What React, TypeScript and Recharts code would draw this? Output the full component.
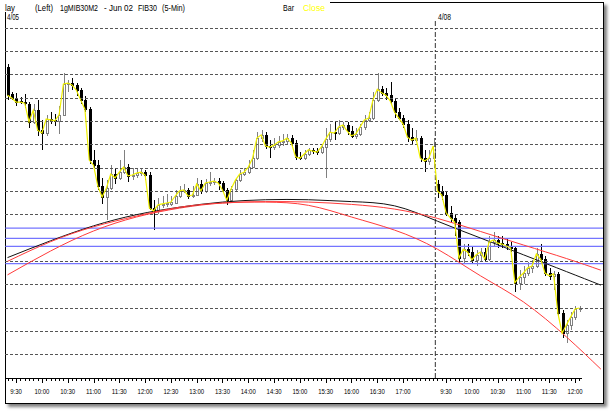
import { ComposedChart, Bar, Line, XAxis, YAxis, ReferenceLine } from "recharts";

// 5-min bars, FIB30 June 02, 4/05 and 4/08
const day1Times = [
  "9:20", "9:25", "9:30", "9:35", "9:40", "9:45", "9:50", "9:55",
  "10:00", "10:05", "10:10", "10:15", "10:20", "10:25", "10:30", "10:35", "10:40", "10:45", "10:50", "10:55",
  "11:00", "11:05", "11:10", "11:15", "11:20", "11:25", "11:30", "11:35", "11:40", "11:45", "11:50", "11:55",
  "12:00", "12:05", "12:10", "12:15", "12:20", "12:25", "12:30", "12:35", "12:40", "12:45", "12:50", "12:55",
  "13:00", "13:05", "13:10", "13:15", "13:20", "13:25", "13:30", "13:35", "13:40", "13:45", "13:50", "13:55",
  "14:00", "14:05", "14:10", "14:15", "14:20", "14:25", "14:30", "14:35", "14:40", "14:45", "14:50", "14:55",
  "15:00", "15:05", "15:10", "15:15", "15:20", "15:25", "15:30", "15:35", "15:40", "15:45", "15:50", "15:55",
  "16:00", "16:05", "16:10", "16:15", "16:20", "16:25", "16:30", "16:35", "16:40", "16:45", "16:50", "16:55",
  "17:00", "17:05", "17:10", "17:15", "17:20", "17:25", "17:30", "17:35",
];
const day2Times = [
  "9:20", "9:25", "9:30", "9:35", "9:40", "9:45", "9:50", "9:55",
  "10:00", "10:05", "10:10", "10:15", "10:20", "10:25", "10:30", "10:35", "10:40", "10:45", "10:50", "10:55",
  "11:00", "11:05", "11:10", "11:15", "11:20", "11:25", "11:30", "11:35", "11:40", "11:45", "11:50", "11:55",
  "12:00", "12:05",
];
const padKeys = ["pad1", "pad2", "pad3", "pad4", "pad5"];

const day1Labels = [
  "9:30", "10:00", "10:30", "11:00", "11:30", "12:00", "12:30", "13:00",
  "13:30", "14:00", "14:30", "15:00", "15:30", "16:00", "16:30", "17:00",
];
const day2Labels = ["9:30", "10:00", "10:30", "11:00", "11:30", "12:00"];

const opens = [
  32616, 32559, 32550, 32544, 32541, 32537, 32499, 32524, 32481, 32475,
  32505, 32503, 32501, 32514, 32580, 32582, 32578, 32567, 32546, 32526,
  32417, 32406, 32361, 32338, 32357, 32387, 32379, 32391, 32402, 32383,
  32385, 32389, 32391, 32385, 32314, 32308, 32321, 32323, 32323, 32325,
  32340, 32351, 32353, 32340, 32342, 32366, 32351, 32368, 32370, 32372,
  32368, 32353, 32331, 32355, 32374, 32387, 32391, 32402, 32421, 32464,
  32471, 32447, 32445, 32449, 32456, 32458, 32464, 32454, 32424, 32421,
  32430, 32439, 32436, 32434, 32445, 32462, 32477, 32475, 32488, 32492,
  32479, 32469, 32473, 32488, 32503, 32507, 32546, 32569, 32561, 32556,
  32544, 32520, 32507, 32494, 32466, 32460, 32464, 32421, 32415, 32421,
  32366, 32351, 32342, 32304, 32293, 32284, 32207, 32226, 32220, 32203,
  32214, 32220, 32205, 32241, 32246, 32239, 32237, 32233, 32229, 32154,
  32166, 32175, 32186, 32190, 32216, 32205, 32175, 32169, 32173, 32089,
  32046, 32064, 32081, 32098,
];
const highs = [
  32623, 32563, 32561, 32552, 32559, 32541, 32537, 32546, 32503, 32514,
  32520, 32516, 32533, 32604, 32589, 32593, 32582, 32571, 32554, 32531,
  32439, 32417, 32379, 32374, 32406, 32400, 32417, 32439, 32409, 32400,
  32398, 32400, 32396, 32391, 32331, 32336, 32340, 32344, 32340, 32353,
  32361, 32366, 32357, 32361, 32379, 32374, 32376, 32391, 32379, 32379,
  32372, 32357, 32361, 32379, 32396, 32400, 32417, 32439, 32477, 32481,
  32477, 32460, 32464, 32469, 32473, 32473, 32471, 32460, 32434, 32439,
  32443, 32443, 32443, 32451, 32486, 32494, 32499, 32503, 32499, 32499,
  32490, 32486, 32494, 32514, 32520, 32563, 32604, 32576, 32571, 32584,
  32550, 32529, 32514, 32503, 32486, 32481, 32469, 32439, 32439, 32464,
  32374, 32361, 32349, 32319, 32301, 32289, 32237, 32237, 32233, 32224,
  32229, 32229, 32254, 32263, 32254, 32254, 32250, 32241, 32233, 32181,
  32190, 32199, 32203, 32229, 32237, 32211, 32186, 32179, 32177, 32096,
  32074, 32091, 32104, 32104,
];
const lows = [
  32546, 32546, 32533, 32537, 32529, 32486, 32494, 32469, 32439, 32469,
  32494, 32490, 32473, 32511, 32563, 32567, 32554, 32537, 32520, 32409,
  32400, 32353, 32323, 32289, 32353, 32366, 32374, 32387, 32370, 32374,
  32379, 32383, 32374, 32310, 32267, 32301, 32314, 32316, 32319, 32323,
  32336, 32346, 32334, 32336, 32340, 32344, 32346, 32361, 32364, 32353,
  32346, 32321, 32325, 32349, 32370, 32383, 32387, 32400, 32417, 32456,
  32441, 32421, 32439, 32443, 32447, 32451, 32447, 32417, 32417, 32417,
  32426, 32430, 32428, 32430, 32379, 32456, 32460, 32471, 32481, 32471,
  32464, 32462, 32469, 32481, 32499, 32503, 32541, 32554, 32546, 32537,
  32507, 32503, 32486, 32456, 32449, 32456, 32413, 32391, 32406, 32400,
  32336, 32331, 32297, 32284, 32254, 32199, 32194, 32211, 32194, 32190,
  32199, 32199, 32201, 32233, 32229, 32229, 32224, 32220, 32134, 32139,
  32151, 32169, 32175, 32186, 32199, 32169, 32160, 32139, 32083, 32036,
  32025, 32053, 32074, 32091,
];
const closes = [
  32556, 32550, 32541, 32541, 32539, 32499, 32524, 32481, 32475, 32505,
  32503, 32501, 32514, 32580, 32582, 32578, 32567, 32546, 32526, 32417,
  32406, 32361, 32338, 32357, 32387, 32379, 32391, 32402, 32383, 32385,
  32389, 32391, 32385, 32314, 32308, 32321, 32323, 32325, 32327, 32340,
  32351, 32353, 32340, 32342, 32366, 32351, 32368, 32370, 32372, 32368,
  32353, 32331, 32355, 32374, 32387, 32391, 32402, 32421, 32464, 32471,
  32447, 32445, 32449, 32456, 32458, 32464, 32454, 32424, 32421, 32430,
  32439, 32436, 32434, 32445, 32462, 32477, 32475, 32488, 32492, 32479,
  32469, 32473, 32488, 32503, 32507, 32546, 32569, 32561, 32556, 32544,
  32520, 32507, 32494, 32466, 32460, 32464, 32421, 32415, 32421, 32447,
  32351, 32342, 32304, 32293, 32284, 32207, 32226, 32220, 32203, 32214,
  32220, 32205, 32241, 32246, 32239, 32237, 32233, 32229, 32154, 32166,
  32175, 32186, 32190, 32216, 32205, 32175, 32169, 32173, 32089, 32046,
  32064, 32081, 32098, 32100,
];

// fitted curves, read at every 10th bar (last one at the right edge)
const curveBars = [0, 10, 20, 30, 40, 50, 60, 70, 80, 90, 100, 110, 120, 130, 138];
const blackCurve = [32208, 32244, 32276, 32300, 32316, 32327, 32332, 32332, 32328, 32319, 32286, 32250, 32214, 32178, 32149];
const redUpper = [32200, 32242, 32274, 32297, 32316, 32325, 32328, 32327, 32322, 32312, 32292, 32264, 32235, 32206, 32181];
const redLower = [32171, 32222, 32265, 32295, 32314, 32325, 32327, 32320, 32295, 32267, 32226, 32169, 32113, 32038, 31969];

const fibLevels = [32271, 32249, 32232, 32195];
const gridLevels = [
  32000, 32050, 32100, 32150, 32200, 32250, 32300, 32350,
  32400, 32450, 32500, 32550, 32600, 32650, 32700,
];

const barKeys = [
  ...day1Times.map((t) => "4/05 " + t),
  ...day2Times.map((t) => "4/08 " + t),
];
const allKeys = [...barKeys, ...padKeys];
const labelKeys = new Set([
  ...day1Labels.map((t) => "4/05 " + t),
  ...day2Labels.map((t) => "4/08 " + t),
]);
const realBars = new Set(barKeys);

const data = allKeys.map((key, i) => {
  const row: any = { key };
  if (i < closes.length) {
    row.open = opens[i];
    row.high = highs[i];
    row.low = lows[i];
    row.close = closes[i];
    row.range = [lows[i], highs[i]];
  }
  const c = curveBars.indexOf(i);
  if (c >= 0) {
    row.black = blackCurve[c];
    row.redA = redUpper[c];
    row.redB = redLower[c];
  }
  return row;
});

const W = 610;
const H = 415;
const M = { top: 21, right: 7, bottom: 7, left: 5.36 };
const BAND = (W - M.left - M.right) / allKeys.length;
const FONT = "'Liberation Sans', Arial, sans-serif";

function Candle(props: any) {
  const { x, y, width, height, payload } = props;
  if (!payload || payload.high == null) return null;
  const top = Math.min(y, y + height);
  const h = Math.abs(height);
  const span = payload.high - payload.low || 1;
  const toY = (v: number) => top + ((payload.high - v) / span) * h;
  const cx = Math.round(x + width / 2);
  const up = payload.close >= payload.open;
  const col = up ? "#808080" : "#000";
  const y1 = Math.round(toY(Math.max(payload.open, payload.close)));
  const y2 = Math.round(toY(Math.min(payload.open, payload.close)));
  return (
    <g shapeRendering="crispEdges">
      <line x1={cx + 0.5} x2={cx + 0.5} y1={Math.round(top)} y2={Math.round(top + h)} stroke={col} />
      <rect
        x={cx - 0.5}
        y={y1 + 0.5}
        width={2}
        height={Math.max(y2 - y1, 1)}
        fill={up ? "#fff" : "#000"}
        stroke={col}
      />
    </g>
  );
}

function TimeTick(props: any) {
  const { x, y, payload } = props;
  const key = payload.value as string;
  if (!realBars.has(key)) return null;
  const ay = Math.round(y) + 0.5;
  const tx = Math.round(x) + 0.5;
  const isLabel = labelKeys.has(key);
  const label = key.split(" ")[1];
  return (
    <g>
      <line x1={x - BAND / 2} x2={x + BAND / 2} y1={ay} y2={ay} stroke="#000" shapeRendering="crispEdges" />
      <line x1={tx} x2={tx} y1={ay} y2={ay + (isLabel ? 4 : 2)} stroke="#000" shapeRendering="crispEdges" />
      {isLabel && (
        <text
          x={x}
          y={y + 16}
          textAnchor="middle"
          fontFamily={FONT}
          fontSize={8}
          fill="#000"
          textLength={label.length * 3.3 - 1.5}
          lengthAdjust="spacingAndGlyphs"
        >
          {label}
        </text>
      )}
    </g>
  );
}

const titleParts = [
  { text: "lay", x: 5, w: 10 },
  { text: "(Left)", x: 35, w: 18 },
  { text: "1gMIB30M2", x: 60, w: 38 },
  { text: "- Jun 02", x: 104, w: 29 },
  { text: "FIB30", x: 138, w: 19 },
  { text: "(5-Min)", x: 162, w: 23 },
  { text: "Bar", x: 283, w: 11 },
];

export default function App() {
  return (
    <div style={{ position: "absolute", left: 0, top: 0, width: W, height: H, background: "#fff" }}>
      <div
        style={{
          position: "absolute",
          left: 5,
          top: 2,
          width: 597,
          height: 400,
          border: "1px solid #000",
          boxShadow: "3px 3px 3px rgba(0,0,0,0.5)",
          background: "#fff",
        }}
      />
      <div style={{ position: "absolute", left: 0, top: 0 }}>
        <ComposedChart width={W} height={H} data={data} margin={M}>
          <XAxis
            dataKey="key"
            interval={0}
            height={30}
            axisLine={false}
            tickLine={false}
            tickSize={0}
            tickMargin={0}
            tick={(p: any) => <TimeTick {...p} />}
          />
          <YAxis hide type="number" domain={[31950, 32715]} allowDataOverflow />
          {gridLevels.map((v) => (
            <ReferenceLine key={v} y={v} stroke="#555" strokeDasharray="3 2" shapeRendering="crispEdges" />
          ))}
          {fibLevels.map((v) => (
            <ReferenceLine key={"f" + v} y={v} stroke="#7575ff" strokeWidth={1.2} />
          ))}
          <ReferenceLine x="4/08 9:20" position="start" stroke="#333" strokeDasharray="5 2 2 2" />
          <Line dataKey="redB" type="natural" stroke="#ff3b3b" strokeWidth={1} dot={false} connectNulls isAnimationActive={false} />
          <Line dataKey="black" type="natural" stroke="#111" strokeWidth={1} dot={false} connectNulls isAnimationActive={false} />
          <Line dataKey="redA" type="natural" stroke="#ff3b3b" strokeWidth={1} dot={false} connectNulls isAnimationActive={false} />
          <Bar dataKey="range" barSize={3} shape={(p: any) => <Candle {...p} />} isAnimationActive={false} />
          <Line dataKey="close" type="linear" stroke="#f0f000" strokeWidth={1.2} dot={false} isAnimationActive={false} />
        </ComposedChart>
      </div>
      <svg width={W} height={30} style={{ position: "absolute", left: 0, top: 0 }}>
        <rect x={0} y={0} width={330} height={12} fill="#fff" />
        {titleParts.map((t) => (
          <text key={t.text} x={t.x} y={11} fontFamily={FONT} fontSize={8.5} fill="#000" textLength={t.w} lengthAdjust="spacingAndGlyphs">
            {t.text}
          </text>
        ))}
        <text x={303} y={11} fontFamily={FONT} fontSize={8.5} fill="#ffff00" textLength={22} lengthAdjust="spacingAndGlyphs">
          Close
        </text>
        <text x={7} y={20} fontFamily={FONT} fontSize={8.5} fill="#000" textLength={12} lengthAdjust="spacingAndGlyphs">
          4/05
        </text>
        <text x={438} y={20} fontFamily={FONT} fontSize={8.5} fill="#000" textLength={13} lengthAdjust="spacingAndGlyphs">
          4/08
        </text>
      </svg>
    </div>
  );
}
